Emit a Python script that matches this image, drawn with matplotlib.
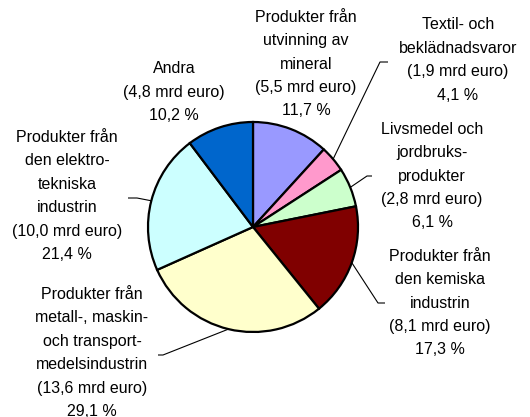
import matplotlib
matplotlib.use("Agg")
import matplotlib.pyplot as plt
import numpy as np

plt.rcParams['font.family'] = ['Liberation Sans', 'DejaVu Sans']

# slices, clockwise from 12 o'clock
names = ["Produkter från\nutvinning av\nmineral",
         "Textil- och\nbeklädnadsvaror",
         "Livsmedel och\njordbruks-\nprodukter",
         "Produkter från\nden kemiska\nindustrin",
         "Produkter från\nmetall-, maskin-\noch transport-\nmedelsindustrin",
         "Produkter från\nden elektro-\ntekniska\nindustrin",
         "Andra"]
mrd = [5.5, 1.9, 2.8, 8.1, 13.6, 10.0, 4.8]
pct = ["11,7", "4,1", "6,1", "17,3", "29,1", "21,4", "10,2"]
colors = ["#9999FF", "#FF99CC", "#CCFFCC", "#800000", "#FFFFCC", "#CCFFFF", "#0066CC"]

W, H = 530, 417
fig = plt.figure(figsize=(W / 100, H / 100), dpi=100)
ax = fig.add_axes([0, 0, 1, 1])

cx, cy, r = 253, H - 227, 105
wedges, _ = ax.pie(mrd, colors=colors, startangle=90, counterclock=False,
                   center=(cx, cy), radius=r, frame=True,
                   wedgeprops=dict(edgecolor='black', linewidth=1.6))
ax.set_xlim(0, W)
ax.set_ylim(0, H)
ax.set_aspect('equal')
ax.axis('off')

# label block centres (pixels from top-left) and leader elbows
label_pos = [(306, 64), (458, 60), (432, 176), (440, 303), (92, 353), (67, 196), (174, 92)]
elbows = [None, ((380, 62), (388, 62)), ((367, 176), (372, 176)),
          ((378, 303), (385, 303)), ((163, 355), (158, 355)),
          ((137, 198), (128, 198)), None]

for i, w in enumerate(wedges):
    txt = "%s\n(%s mrd euro)\n%s %%" % (names[i], ("%.1f" % mrd[i]).replace('.', ','), pct[i])
    lx, ly = label_pos[i]
    ax.text(lx, H - ly, txt, ha='center', va='center', fontsize=11.5,
            linespacing=1.7, color='black')
    if elbows[i] is not None:
        ang = np.deg2rad((w.theta1 + w.theta2) / 2)
        sx, sy = cx + r * np.cos(ang), cy + r * np.sin(ang)
        (ex, ey), (fx, fy) = elbows[i]
        ax.plot([sx, ex, fx], [sy, H - ey, H - fy], color='black', linewidth=0.8,
                solid_capstyle='butt')

fig.savefig("out.png", dpi=100)
